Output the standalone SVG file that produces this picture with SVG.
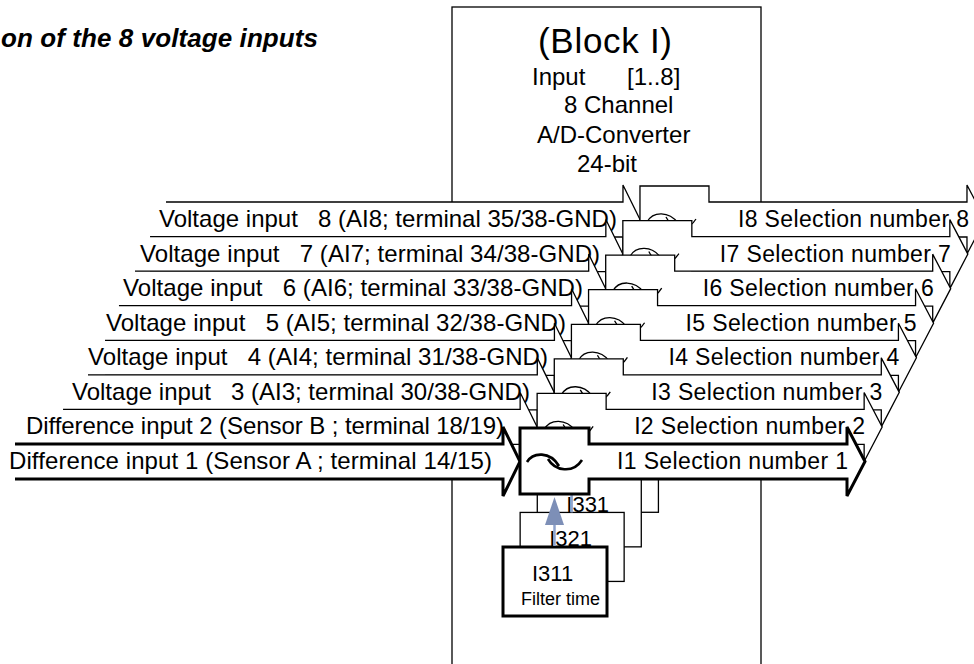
<svg xmlns="http://www.w3.org/2000/svg" width="974" height="664" viewBox="0 0 974 664" xml:space="preserve">
<style>
text { font-family: "Liberation Sans", Arial, Helvetica, sans-serif; fill: #000; white-space: pre; }
.lbl { font-size: 24px; }
.out { font-size: 23px; }
.blk { font-size: 24px; }
.ttl { font-size: 26px; font-weight: bold; font-style: italic; }
.shape { fill: #fff; stroke: #000; stroke-width: 1.3; stroke-linejoin: miter; }
.thick .shape { stroke-width: 3; }
.tilde { fill: none; stroke: #000; stroke-width: 1.3; }
.thick .tilde { stroke-width: 2.6; }
.fbox { fill: #fff; stroke: #000; stroke-width: 1.3; }
.fbox.thick { stroke-width: 3; }
.blue { fill: #7d8fb7; }
.bshaft { stroke: #8fa3cc; stroke-width: 2.5; }
.fnum { font-size: 22px; }
.ftxt { font-size: 18px; }
</style>
<defs>
<path id="tilde1" d="M527,462 C533,452 550,451 559,466 M548,459 C555,471 573,474 582,460"/>
<path id="tilde2" d="M527,464 C533,453 549,453 558,465 M546,459 C553,473 568,474 576,461"/>
</defs>

<text class="ttl" x="1" y="47" textLength="317">on of the 8 voltage inputs</text>

<g id="block">
<rect x="452" y="7" width="309" height="690" fill="#fff" stroke="#000" stroke-width="1.3"/>
<text x="538" y="53" style="font-size:35px" textLength="134">(Block I)</text>
<text class="blk" x="532" y="85">Input</text>
<text class="blk" x="627" y="85">[1..8]</text>
<text class="blk" x="564" y="113">8 Channel</text>
<text class="blk" x="537" y="143">A/D-Converter</text>
<text class="blk" x="577" y="172">24-bit</text>
</g>

<g id="filters">
<g id="filter4" transform="translate(51.42,-103.71)">
<rect class="fbox" x="503" y="547" width="104" height="69"/>
</g>
<g id="filter3" transform="translate(34.28,-69.14)">
<rect class="fbox" x="503" y="547" width="104" height="69"/>
<text class="fnum" x="532" y="581">I331</text>
</g>
<g id="filter2" transform="translate(17.14,-34.57)">
<rect class="fbox" x="503" y="547" width="104" height="69"/>
<line class="bshaft" x1="554.5" y1="547" x2="554.5" y2="522"/>
<polygon class="blue" points="545,525 564,525 554.5,497"/>
<text class="fnum" x="532" y="581">I321</text>
</g>
<g id="filter1">
<rect class="fbox thick" x="503" y="547" width="104" height="69"/>
<line class="bshaft" x1="554.5" y1="546" x2="554.5" y2="522"/>
<polygon class="blue" points="545,525 564,525 554.5,497"/>
<text class="fnum" x="532" y="581">I311</text>
<text class="ftxt" x="521" y="605">Filter time</text>
</g>
</g>

<g id="channels">
<g id="ch8" transform="translate(119.98,-241.99)">
<path class="shape" d="M46,444 H503 V427 L520,461.5 L503,496 V479 H46"/>
<path class="shape" d="M520,428 H589 V444 H847 V427 L865,461.5 L847,496 V479 H589 V494 H520 Z"/>
<use href="#tilde2" class="tilde"/>
<text class="lbl" x="39" y="469" textLength="458">Voltage input   8 (AI8; terminal 35/38-GND)</text>
<text class="out" x="618" y="469" textLength="231">I8 Selection number 8</text>
</g>
<g id="ch7" transform="translate(102.84,-207.42)">
<path class="shape" d="M47.2,444 H503 V427 L520,461.5 L503,496 V479 H47.2"/>
<path class="shape" d="M520,428 H589 V444 H847 V427 L865,461.5 L847,496 V479 H589 V494 H520 Z"/>
<use href="#tilde2" class="tilde"/>
<text class="lbl" x="37.2" y="469" textLength="460">Voltage input   7 (AI7; terminal 34/38-GND)</text>
<text class="out" x="617" y="469" textLength="231">I7 Selection number 7</text>
</g>
<g id="ch6" transform="translate(85.7,-172.85)">
<path class="shape" d="M49.3,444 H503 V427 L520,461.5 L503,496 V479 H49.3"/>
<path class="shape" d="M520,428 H589 V444 H847 V427 L865,461.5 L847,496 V479 H589 V494 H520 Z"/>
<use href="#tilde2" class="tilde"/>
<text class="lbl" x="37.3" y="469" textLength="460">Voltage input   6 (AI6; terminal 33/38-GND)</text>
<text class="out" x="617" y="469" textLength="231">I6 Selection number 6</text>
</g>
<g id="ch5" transform="translate(68.56,-138.28)">
<path class="shape" d="M50.4,444 H503 V427 L520,461.5 L503,496 V479 H50.4"/>
<path class="shape" d="M520,428 H589 V444 H847 V427 L865,461.5 L847,496 V479 H589 V494 H520 Z"/>
<use href="#tilde2" class="tilde"/>
<text class="lbl" x="37.4" y="469" textLength="460">Voltage input   5 (AI5; terminal 32/38-GND)</text>
<text class="out" x="617" y="469" textLength="231">I5 Selection number 5</text>
</g>
<g id="ch4" transform="translate(51.42,-103.71)">
<path class="shape" d="M53.6,444 H503 V427 L520,461.5 L503,496 V479 H53.6"/>
<path class="shape" d="M520,428 H589 V444 H847 V427 L865,461.5 L847,496 V479 H589 V494 H520 Z"/>
<use href="#tilde2" class="tilde"/>
<text class="lbl" x="36.6" y="469" textLength="460">Voltage input   4 (AI4; terminal 31/38-GND)</text>
<text class="out" x="617" y="469" textLength="231">I4 Selection number 4</text>
</g>
<g id="ch3" transform="translate(34.28,-69.14)">
<path class="shape" d="M53.7,444 H503 V427 L520,461.5 L503,496 V479 H53.7"/>
<path class="shape" d="M520,428 H589 V444 H847 V427 L865,461.5 L847,496 V479 H589 V494 H520 Z"/>
<use href="#tilde2" class="tilde"/>
<text class="lbl" x="37.7" y="469" textLength="458">Voltage input   3 (AI3; terminal 30/38-GND)</text>
<text class="out" x="617" y="469" textLength="231">I3 Selection number 3</text>
</g>
<g id="ch2" transform="translate(17.14,-34.57)">
<path class="shape" d="M45.9,444 H503 V427 L520,461.5 L503,496 V479 H45.9"/>
<path class="shape" d="M520,428 H589 V444 H847 V427 L865,461.5 L847,496 V479 H589 V494 H520 Z"/>
<use href="#tilde2" class="tilde"/>
<text class="lbl" x="8.9" y="469" textLength="478">Difference input 2 (Sensor B ; terminal 18/19)</text>
<text class="out" x="617" y="469" textLength="231">I2 Selection number 2</text>
</g>
<g id="ch1" class="thick">
<path class="shape" d="M15,444 H503 V427 L520,461.5 L503,496 V479 H15"/>
<path class="shape" d="M520,428 H589 V444 H847 V427 L865,461.5 L847,496 V479 H589 V494 H520 Z"/>
<use href="#tilde1" class="tilde"/>
<text class="lbl" x="9" y="469" textLength="483">Difference input 1 (Sensor A ; terminal 14/15)</text>
<text class="out" x="617" y="469" textLength="231">I1 Selection number 1</text>
</g>
</g>
</svg>
